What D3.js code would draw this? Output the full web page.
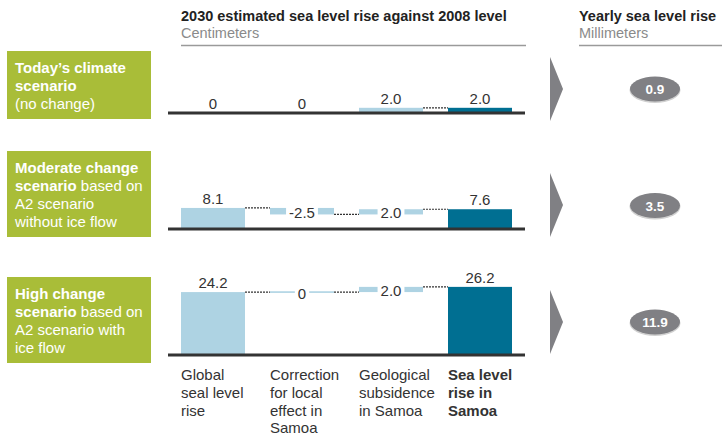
<!DOCTYPE html>
<html>
<head>
<meta charset="utf-8">
<script src="https://cdn.jsdelivr.net/npm/d3@7"></script>
<style>
  html, body { margin: 0; padding: 0; background: #fff; }
  svg { display: block; font-family: "Liberation Sans", Arial, sans-serif; }
</style>
</head>
<body>
<svg id="chart" width="722" height="436"></svg>
<script>
// ---------- DATA ----------
const categories = ["Global seal level rise", "Correction for local effect in Samoa", "Geological subsidence in Samoa", "Sea level rise in Samoa"];
const categoryLines = [["Global", "seal level", "rise"], ["Correction", "for local", "effect in", "Samoa"], ["Geological", "subsidence", "in Samoa"], ["Sea level", "rise in", "Samoa"]];
const scenarioLines = [
  [[["Today\u2019s climate", true]], [["scenario", true]], [["(no change)", false]]],
  [[["Moderate change", true]], [["scenario", true], [" based on", false]], [["A2 scenario", false]], [["without ice flow", false]]],
  [[["High change", true]], [["scenario", true], [" based on", false]], [["A2 scenario with", false]], [["ice flow", false]]]
];
const globalRise = [0, 8.1, 24.2];
const localCorrection = [0, -2.5, 0];
const geologicalSubsidence = [2.0, 2.0, 2.0];
const samoaRise = [2.0, 7.6, 26.2];
const yearlyRise = [0.9, 3.5, 11.9];
const titleLeft = "2030 estimated sea level rise against 2008 level";
const unitLeft = "Centimeters";
const titleRight = "Yearly sea level rise";
const unitRight = "Millimeters";

// ---------- LAYOUT ----------
const axisY = [113, 229, 355];
const boxTop = [51, 151, 277];
const boxH = [68, 86, 86];
const arrowTop = [57, 173, 290];
const ellipseY = [89, 205.5, 322];

const C = {
  green: "#A9BD38", light: "#AED3E3", dark: "#006F92", gray: "#808084",
  text: "#333333", sub: "#8a8a8a", axis: "#333333"
};

const svg = d3.select("#chart");

const x = d3.scaleBand().domain(categories).range([181, 512]).paddingInner(25 / 89).paddingOuter(0);
const h = d3.scaleLinear().domain([0, 30]).range([0, 78]);
const fmt = v => v === 0 ? "0" : d3.format(".1f")(v).replace("\u2212", "-");

// ---------- HEADERS ----------
svg.append("text").attr("x", 181).attr("y", 21).attr("font-size", 14.5).attr("font-weight", "bold")
  .attr("fill", "#222").text(titleLeft);
svg.append("text").attr("x", 181).attr("y", 38).attr("font-size", 14.5).attr("fill", C.sub).text(unitLeft);
svg.append("line").attr("x1", 181).attr("x2", 526).attr("y1", 45.5).attr("y2", 45.5).attr("stroke", "#9a9a9a").attr("stroke-width", 1.5);

svg.append("text").attr("x", 579).attr("y", 21).attr("font-size", 14.5).attr("font-weight", "bold")
  .attr("fill", "#222").text(titleRight);
svg.append("text").attr("x", 579).attr("y", 38).attr("font-size", 14.5).attr("fill", C.sub).text(unitRight);
svg.append("line").attr("x1", 579).attr("x2", 722).attr("y1", 45.5).attr("y2", 45.5).attr("stroke", "#9a9a9a").attr("stroke-width", 1.5);

// ---------- ROWS ----------
d3.range(3).forEach(i => {
  const g = svg.append("g");
  const ay = axisY[i];
  const y = v => ay - h(v);

  // scenario box
  g.append("rect").attr("x", 7).attr("y", boxTop[i]).attr("width", 144).attr("height", boxH[i]).attr("fill", C.green);
  const t = g.append("text").attr("font-size", 15).attr("fill", "#fff");
  scenarioLines[i].forEach((line, li) => {
    line.forEach((seg, si) => {
      const ts = t.append("tspan").attr("font-weight", seg[1] ? "bold" : "normal").text(seg[0]);
      if (si === 0) ts.attr("x", 15).attr("y", boxTop[i] + 22 + li * 18);
    });
  });

  // waterfall steps
  const a = globalRise[i], c = localCorrection[i], s = geologicalSubsidence[i], tot = samoaRise[i];
  const steps = [
    { cat: categories[0], lo: 0, hi: a, v: a, color: C.light, floating: false },
    { cat: categories[1], lo: Math.min(a, a + c), hi: Math.max(a, a + c), v: c, color: C.light, floating: a !== 0 },
    { cat: categories[2], lo: Math.min(a + c, a + c + s), hi: Math.max(a + c, a + c + s), v: s, color: C.light, floating: (a + c) !== 0 },
    { cat: categories[3], lo: 0, hi: tot, v: tot, color: C.dark, floating: false }
  ];
  const levels = [a, a + c, a + c + s];

  // connectors
  levels.forEach((lv, k) => {
    if (lv === 0) return;
    g.append("line")
      .attr("x1", x(steps[k].cat) + x.bandwidth()).attr("x2", x(steps[k + 1].cat))
      .attr("y1", y(lv)).attr("y2", y(lv))
      .attr("stroke", "#333").attr("stroke-width", 1.2).attr("stroke-dasharray", "2,1");
  });

  steps.forEach(st => {
    const bx = x(st.cat), bw = x.bandwidth();
    const top = y(st.hi), bot = y(st.lo);
    const bh = Math.max(bot - top, st.floating ? 1.6 : 0);
    if (bh > 0) {
      g.append("rect").attr("x", bx).attr("y", st.floating && bot - top < 1.6 ? top - 0.8 : top)
        .attr("width", bw).attr("height", bh).attr("fill", st.color);
    }
    const cx = bx + bw / 2;
    if (st.floating) {
      const mid = (top + bot) / 2;
      const lbl = g.append("text").attr("x", cx).attr("y", mid + 6.5).attr("text-anchor", "middle")
        .attr("font-size", 15).attr("fill", C.text).text(fmt(st.v));
      const w = lbl.node().getComputedTextLength();
      g.insert("rect", function () { return lbl.node(); })
        .attr("x", cx - w / 2 - 3).attr("y", mid - 6).attr("width", w + 6).attr("height", 12).attr("fill", "#fff");
    } else {
      g.append("text").attr("x", cx).attr("y", top - 4).attr("text-anchor", "middle")
        .attr("font-size", 15).attr("fill", C.text).text(fmt(st.v));
    }
  });

  // axis baseline
  g.append("line").attr("x1", 168).attr("x2", 525).attr("y1", ay).attr("y2", ay)
    .attr("stroke", C.axis).attr("stroke-width", 3);

  // arrow
  const at = arrowTop[i];
  g.append("path").attr("d", d3.line()([[550, at], [563, at + 32], [550, at + 64]]) + "Z").attr("fill", C.gray);

  // yearly ellipse
  g.append("ellipse").attr("cx", 655).attr("cy", ellipseY[i] + 1).attr("rx", 25.5).attr("ry", 13).attr("fill", "#d0d0d0");
  g.append("ellipse").attr("cx", 655).attr("cy", ellipseY[i]).attr("rx", 25).attr("ry", 12.5).attr("fill", C.gray);
  g.append("text").attr("x", 655).attr("y", ellipseY[i] + 5).attr("text-anchor", "middle")
    .attr("font-size", 13.5).attr("font-weight", "bold").attr("fill", "#fff").text(d3.format(".1f")(yearlyRise[i]));
});

// ---------- CATEGORY LABELS ----------
categories.forEach((cat, k) => {
  const t = svg.append("text").attr("font-size", 15).attr("fill", C.text)
    .attr("font-weight", k === 3 ? "bold" : "normal");
  categoryLines[k].forEach((ln, li) => {
    t.append("tspan").attr("x", x(cat)).attr("y", 380 + li * 17.8).text(ln);
  });
});
</script>
</body>
</html>
